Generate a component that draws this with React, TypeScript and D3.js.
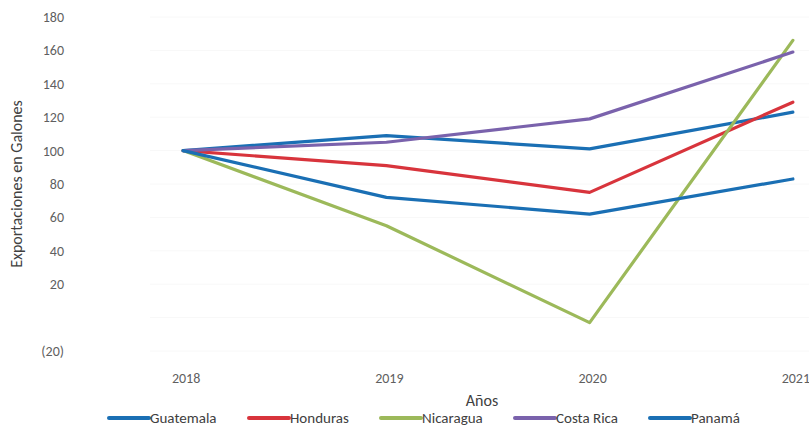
import React from "react";
import * as d3 from "d3";

const years = ["2018", "2019", "2020", "2021"];
const guatemala = [100, 109, 101, 123];
const honduras = [100, 91, 75, 129];
const nicaragua = [100, 55, -3, 166];
const costaRica = [100, 105, 119, 159];
const panama = [100, 72, 62, 83];
const seriesNames = ["Guatemala", "Honduras", "Nicaragua", "Costa Rica", "Panamá"];
const seriesColors = ["#1a6fb4", "#d8343c", "#9cb95a", "#7a62ac", "#1a6fb4"];
const yTicks = [-20, 0, 20, 40, 60, 80, 100, 120, 140, 160, 180];
const yTickLabels = ["(20)", "", "20", "40", "60", "80", "100", "120", "140", "160", "180"];

const W = 809;
const H = 429;
const FONT = "Carlito, 'Liberation Sans Narrow', 'Open Sans', sans-serif";

export default function App() {
  const allSeries = [guatemala, honduras, nicaragua, costaRica, panama];
  const x = d3.scalePoint<string>().domain(years).range([81.5, 894.5]).padding(0.5);
  const y = d3.scaleLinear().domain([-20, 180]).range([351, 17]);
  const line = d3
    .line<number>()
    .x((_, i) => x(years[i]) as number)
    .y((d) => y(d));

  const legendX = [109, 249, 381, 515, 650];

  return (
    <svg width={W} height={H} style={{ position: "absolute", left: 0, top: 0, background: "#fff" }}>
      <rect width={W} height={H} fill="#fff" />
      {yTicks.map((t) => (
        <line key={"g" + t} x1={150} x2={W} y1={y(t)} y2={y(t)} stroke="#f8f8f8" strokeWidth={1} />
      ))}
      {yTicks.map((t, i) => (
        <text
          key={"t" + t}
          x={64}
          y={y(t)}
          dy="0.35em"
          textAnchor="end"
          fontFamily={FONT}
          fontSize={14}
          fill="#5f5f5f"
        >
          {yTickLabels[i]}
        </text>
      ))}
      <text
        transform={`translate(22,${184}) rotate(-90)`}
        textAnchor="middle"
        fontFamily={FONT}
        fontSize={16}
        fill="#404040"
      >
        Exportaciones en Galones
      </text>
      {years.map((yr) => (
        <text
          key={yr}
          x={(x(yr) as number) + 3}
          y={378}
          dy="0.35em"
          textAnchor="middle"
          fontFamily={FONT}
          fontSize={14}
          fill="#5f5f5f"
        >
          {yr}
        </text>
      ))}
      <text x={482} y={400} dy="0.35em" textAnchor="middle" fontFamily={FONT} fontSize={16} fill="#404040">
        Años
      </text>
      {allSeries.map((s, i) => (
        <path
          key={seriesNames[i]}
          d={line(s) || ""}
          fill="none"
          stroke={seriesColors[i]}
          strokeWidth={3.2}
          strokeLinejoin="round"
          strokeLinecap="round"
        />
      ))}
      {seriesNames.map((n, i) => (
        <g key={"l" + n} transform={`translate(${legendX[i]},418)`}>
          <line x1={0} x2={40} y1={0} y2={0} stroke={seriesColors[i]} strokeWidth={4} strokeLinecap="round" />
          <text x={41} y={0} dy="0.35em" fontFamily={FONT} fontSize={15} fill="#404040">
            {n}
          </text>
        </g>
      ))}
    </svg>
  );
}
